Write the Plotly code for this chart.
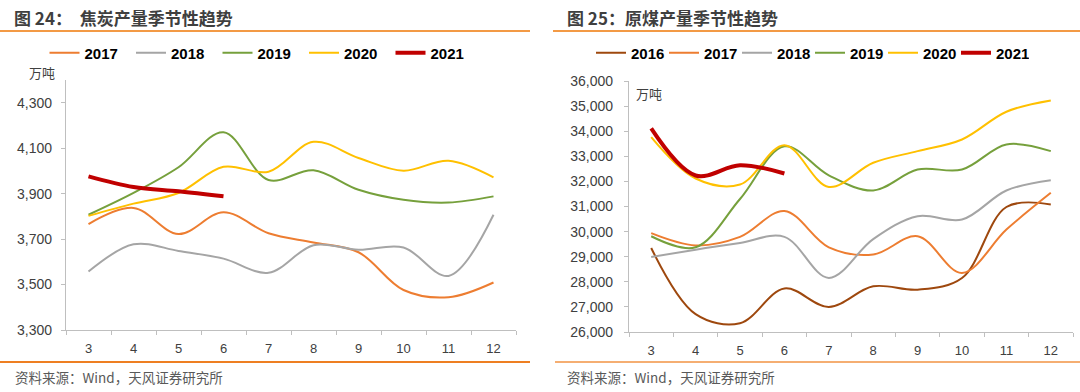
import plotly.graph_objects as go

months = ["3", "4", "5", "6", "7", "8", "9", "10", "11", "12"]

# 图24 焦炭产量 (万吨)
coke_2017 = [3766, 3837, 3722, 3818, 3726, 3685, 3642, 3476, 3444, 3509]
coke_2018 = [3557, 3677, 3648, 3614, 3552, 3673, 3653, 3663, 3538, 3807]
coke_2019 = [3807, 3903, 4016, 4170, 3960, 4003, 3917, 3873, 3861, 3888]
coke_2020 = [3802, 3856, 3903, 4018, 3996, 4128, 4057, 4001, 4045, 3972]
coke_2021 = [3976, 3929, 3910, 3888]

# 图25 原煤产量 (万吨)
coal_2016 = [29345, 26710, 26350, 27734, 26997, 27819, 27687, 28150, 30980, 31080]
coal_2017 = [29940, 29450, 29790, 30820, 29375, 29084, 29814, 28350, 30081, 31545]
coal_2018 = [28990, 29280, 29550, 29790, 28154, 29700, 30611, 30480, 31637, 32048]
coal_2019 = [29815, 29375, 31300, 33400, 32240, 31637, 32474, 32474, 33472, 33205]
coal_2020 = [33762, 32115, 31876, 33443, 31780, 32741, 33205, 33671, 34776, 35227]
coal_2021 = [34110, 32236, 32645, 32315]

colors = {
    "2016": "#9E480E",
    "2017": "#ED7D31",
    "2018": "#A5A5A5",
    "2019": "#76A03C",
    "2020": "#FFC000",
    "2021": "#C00000",
}

FONT = "Liberation Sans, Arial, Noto Sans CJK SC, sans-serif"
CJK = "Noto Sans CJK SC, sans-serif"

fig = go.Figure()

left_series = [("2017", coke_2017), ("2018", coke_2018), ("2019", coke_2019),
               ("2020", coke_2020), ("2021", coke_2021)]
for name, vals in left_series:
    fig.add_trace(go.Scatter(
        x=months[:len(vals)], y=vals, name=name, mode="lines",
        line=dict(color=colors[name], width=4 if name == "2021" else 2,
                  shape="spline", smoothing=1),
        xaxis="x", yaxis="y", legend="legend"))

right_series = [("2016", coal_2016), ("2017", coal_2017), ("2018", coal_2018),
                ("2019", coal_2019), ("2020", coal_2020), ("2021", coal_2021)]
for name, vals in right_series:
    fig.add_trace(go.Scatter(
        x=months[:len(vals)], y=vals, name=name, mode="lines",
        line=dict(color=colors[name], width=4 if name == "2021" else 2,
                  shape="spline", smoothing=1),
        xaxis="x2", yaxis="y2", legend="legend2"))

W, H = 1080, 392

def px_x(p):
    return p / W

def px_y(p):
    return (H - p) / H

axis_color = "#BFBFBF"
xcommon = dict(type="category", categoryorder="array", categoryarray=months,
               range=[-0.5, 9.5],
               showline=True, linecolor=axis_color, linewidth=1.3,
               ticks="outside", tickson="boundaries", ticklen=4, tickcolor=axis_color,
               ticklabelstandoff=6, automargin=False,
               showgrid=False, zeroline=False, fixedrange=True,
               tickfont=dict(family=FONT, size=13, color="#404040"))
ycommon = dict(showline=True, linecolor=axis_color, linewidth=1.3,
               ticks="outside", ticklen=4, tickcolor=axis_color, automargin=False,
               showgrid=False, zeroline=False, tickformat=",", fixedrange=True,
               tickfont=dict(family=FONT, size=14, color="#404040"))

fig.update_layout(
    width=W, height=H,
    margin=dict(l=0, r=0, t=0, b=0, pad=0, autoexpand=False),
    paper_bgcolor="white", plot_bgcolor="white",
    xaxis=dict(domain=[px_x(66), px_x(516)], anchor="y", **xcommon),
    yaxis=dict(domain=[px_y(330), px_y(80)], anchor="x", range=[3300, 4400],
               tick0=3300, dtick=200, ticklabelstandoff=6, **ycommon),
    xaxis2=dict(domain=[px_x(629), px_x(1073)], anchor="y2", **xcommon),
    yaxis2=dict(domain=[px_y(332), px_y(81)], anchor="x2", range=[26000, 36000],
                tick0=26000, dtick=1000, ticklabelstandoff=8, **ycommon),
    legend=dict(orientation="h", x=px_x(261), y=px_y(53), xanchor="center",
                yanchor="middle", font=dict(family=FONT, size=15, color="#000000", weight="bold"),
                bgcolor="rgba(0,0,0,0)", itemwidth=30, entrywidth=41.5),
    legend2=dict(orientation="h", x=px_x(810), y=px_y(53), xanchor="center",
                 yanchor="middle", font=dict(family=FONT, size=15, color="#000000", weight="bold"),
                 bgcolor="rgba(0,0,0,0)", itemwidth=30, entrywidth=28),
    showlegend=True,
)

annotations = [
    dict(text="<b>图 24：  焦炭产量季节性趋势</b>", x=px_x(12), y=px_y(17),
         xanchor="left", yanchor="middle", font=dict(family=CJK, size=17, color="#3F3F3F")),
    dict(text="<b>图 25：原煤产量季节性趋势</b>", x=px_x(565), y=px_y(17),
         xanchor="left", yanchor="middle", font=dict(family=CJK, size=17, color="#3F3F3F")),
    dict(text="万吨", x=px_x(27), y=px_y(72), xanchor="left", yanchor="middle",
         font=dict(family=CJK, size=13, color="#404040")),
    dict(text="万吨", x=px_x(634), y=px_y(93), xanchor="left", yanchor="middle",
         font=dict(family=CJK, size=13, color="#404040")),
    dict(text="资料来源：Wind，天风证券研究所", x=px_x(13), y=px_y(377),
         xanchor="left", yanchor="middle", font=dict(family=CJK, size=13.5, color="#595959")),
    dict(text="资料来源：Wind，天风证券研究所", x=px_x(565), y=px_y(377),
         xanchor="left", yanchor="middle", font=dict(family=CJK, size=13.5, color="#595959")),
]
for a in annotations:
    a.update(xref="paper", yref="paper", showarrow=False)
fig.update_layout(annotations=annotations)

shapes = [
    dict(type="line", x0=0, x1=px_x(530), y0=px_y(31), y1=px_y(31), line=dict(color="#F39A45", width=2)),
    dict(type="line", x0=px_x(553), x1=1, y0=px_y(31), y1=px_y(31), line=dict(color="#F39A45", width=2)),
    dict(type="line", x0=0, x1=px_x(530), y0=px_y(362), y1=px_y(362), line=dict(color="#EE7F22", width=2)),
    dict(type="line", x0=px_x(555), x1=1, y0=px_y(362), y1=px_y(362), line=dict(color="#F5AE72", width=2)),
]
for s in shapes:
    s.update(xref="paper", yref="paper")
fig.update_layout(shapes=shapes)

page_js = """
document.body.style.margin='0px';
document.documentElement.style.overflow='hidden';
document.body.style.overflow='hidden';
"""

fig.write_html("out.html", config={"displayModeBar": False}, post_script=page_js)
